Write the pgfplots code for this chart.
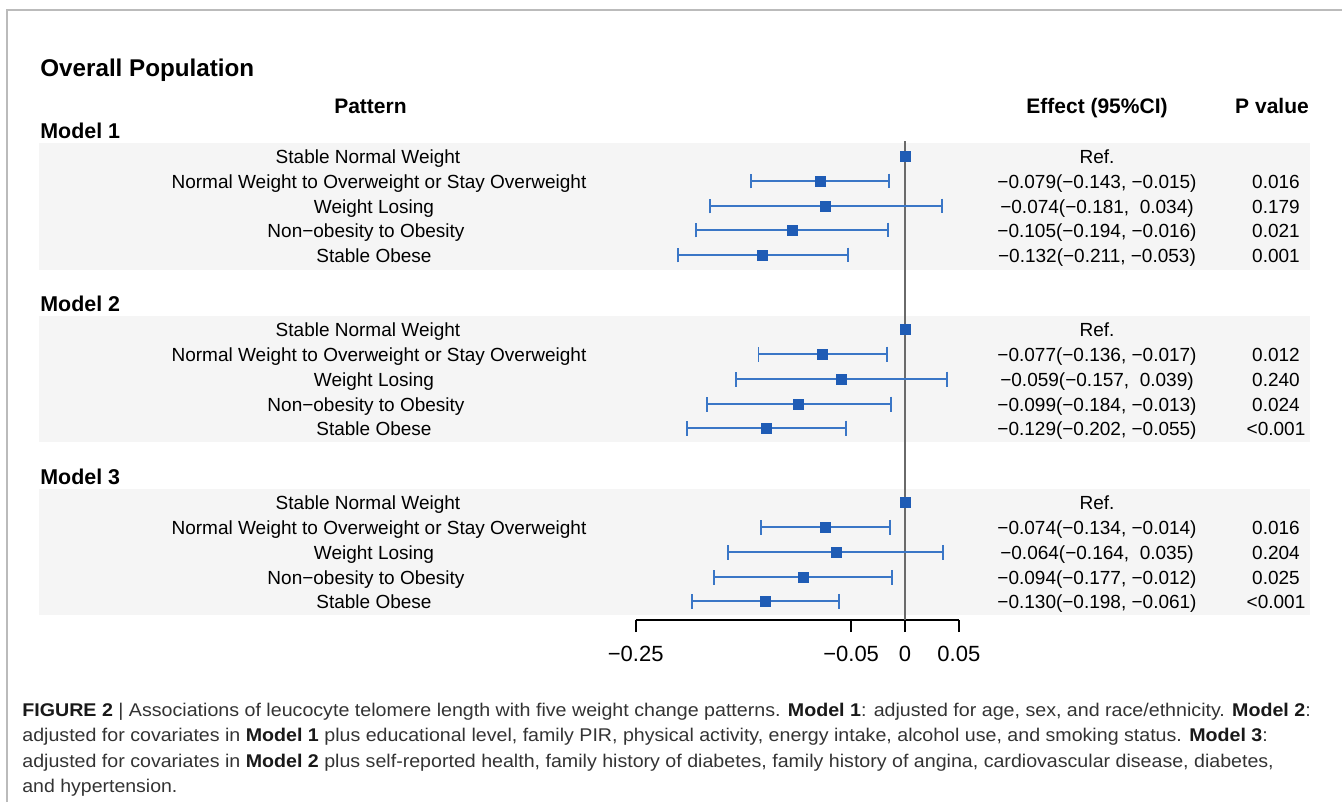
\documentclass[border=0pt]{standalone}
\usepackage{fontspec}
\setmainfont{Liberation Sans}
\usepackage{graphicx}
\usepackage{pgfplots}
\usepackage{pgfplotstable}
\pgfplotsset{compat=1.18}
\definecolor{markblue}{HTML}{1F5CB5}
\definecolor{barblue}{HTML}{3A76C6}
\definecolor{band}{HTML}{F5F5F5}
\definecolor{framec}{HTML}{BBBBBB}
\definecolor{captxt}{HTML}{333333}
\definecolor{zeroline}{HTML}{6A6A6A}
\newcommand\rowf{\fontsize{9.5}{11}\selectfont}
\newcommand\hdrf{\fontsize{10.5}{12}\selectfont\bfseries}
\newcommand\modf{\fontsize{10.7}{12}\selectfont\bfseries}
\newcommand\titf{\fontsize{12.1}{14}\selectfont\bfseries}
\newcommand\capf{\fontsize{9.2}{10}\selectfont\color{captxt}}
% #1 baseline y, #2 pattern x, #3 pattern, #4 effect, #5 p value
\newcommand\rowtext[5]{%
 \node[anchor=base,inner sep=0pt,font=\rowf] at (axis cs:#2,#1) {#3};
 \node[anchor=base,inner sep=0pt,font=\rowf] at (axis cs:0.1783,#1) {#4};
 \node[anchor=base,inner sep=0pt,font=\rowf] at (axis cs:0.3445,#1) {#5};}
\newcommand\capline[3]{%
 \node[anchor=base west,inner sep=0pt,font=\capf] at (axis cs:-0.81987,#1) {\resizebox{#2}{\height}{#3}};}

% est lo hi y (y = 802 - pixel row)
\pgfplotstableread{
est lo hi y
0 0 0 646
0 0 0 473
0 0 0 300
}\refrows
\pgfplotstableread{
est lo hi y
-0.079 -0.143 -0.015 621
-0.074 -0.181 0.034 596
-0.105 -0.194 -0.016 572
-0.132 -0.211 -0.053 547
}\modelone
\pgfplotstableread{
est lo hi y
-0.077 -0.136 -0.017 448
-0.059 -0.157 0.039 423
-0.099 -0.184 -0.013 398
-0.129 -0.202 -0.055 374
}\modeltwo
\pgfplotstableread{
est lo hi y
-0.074 -0.134 -0.014 275
-0.064 -0.164 0.035 250
-0.094 -0.177 -0.012 225
-0.130 -0.198 -0.061 201
}\modelthree

\begin{document}
\begin{tikzpicture}
\begin{axis}[
  scale only axis,
  width=161.5pt, height=240pt,
  xmin=-0.25, xmax=0.05, ymin=182, ymax=662,
  clip=false,
  axis x line=bottom, axis y line=none,
  x axis line style={-, line width=1pt, black},
  xtick={-0.25,-0.05,0,0.05},
  xticklabels={−0.25,−0.05,0,0.05},
  minor xtick={},
  tick align=outside,
  major tick length=6pt,
  major tick style={line width=1pt, black},
  xticklabel style={font=\fontsize{11}{13}\selectfont, anchor=base, yshift=-14.75pt, inner sep=0pt},
  typeset ticklabels with strut=false,
]
% bounding box corners
\coordinate (bbl) at (axis cs:-0.84030,0);
\coordinate (btr) at (axis cs:0.40576,802);
% frame
\draw[framec, line width=0.75pt] (axis cs:-0.8338,0) -- (axis cs:-0.8338,792) -- (axis cs:0.40576,792);
% bands
\fill[band] (axis cs:-0.80409,659) rectangle (axis cs:0.37604,532);
\fill[band] (axis cs:-0.80409,486) rectangle (axis cs:0.37604,360);
\fill[band] (axis cs:-0.80409,313) rectangle (axis cs:0.37604,187);
% zero line
\addplot[zeroline, line width=0.55pt, forget plot] coordinates {(0,182) (0,661)};
% estimates
\pgfplotsset{forestbars/.style={only marks, mark=square*, mark size=2.5pt,
   mark options={draw=markblue, fill=markblue},
   error bars/.cd, x dir=both, x explicit,
   error bar style={line width=0.95pt, barblue},
   error mark options={line width=0.95pt, barblue, mark size=3.7pt, rotate=90}}}
\addplot[forestbars] table[x=est, y=y, x error plus expr=\thisrow{hi}-\thisrow{est}, x error minus expr=\thisrow{est}-\thisrow{lo}] {\modelone};
\addplot[forestbars] table[x=est, y=y, x error plus expr=\thisrow{hi}-\thisrow{est}, x error minus expr=\thisrow{est}-\thisrow{lo}] {\modeltwo};
\addplot[forestbars] table[x=est, y=y, x error plus expr=\thisrow{hi}-\thisrow{est}, x error minus expr=\thisrow{est}-\thisrow{lo}] {\modelthree};
\addplot[only marks, mark=square*, mark size=2.5pt, mark options={draw=markblue, fill=markblue}] table[x=est, y=y] {\refrows};
% title and headers
\node[anchor=base west,inner sep=0pt,font=\titf] at (axis cs:-0.80316,726) {Overall Population};
\node[anchor=base,inner sep=0pt,font=\hdrf] at (axis cs:-0.4963,688.5) {Pattern};
\node[anchor=base,inner sep=0pt,font=\hdrf] at (axis cs:0.1783,688.5) {Effect (95\%CI)};
\node[anchor=base,inner sep=0pt,font=\hdrf] at (axis cs:0.3408,688.5) {P value};
% model labels
\node[anchor=base west,inner sep=0pt,font=\modf] at (axis cs:-0.80316,664) {Model 1};
\node[anchor=base west,inner sep=0pt,font=\modf] at (axis cs:-0.80316,491) {Model 2};
\node[anchor=base west,inner sep=0pt,font=\modf] at (axis cs:-0.80316,318) {Model 3};
% rows
\rowtext{639}{-0.49861}{Stable Normal Weight}{Ref.}{}
\rowtext{614}{-0.48839}{Normal Weight to Overweight or Stay Overweight}{−0.079(−0.143, −0.015)}{0.016}
\rowtext{589}{-0.49304}{Weight Losing}{−0.074(−0.181,~~0.034)}{0.179}
\rowtext{565}{-0.50046}{Non−obesity to Obesity}{−0.105(−0.194, −0.016)}{0.021}
\rowtext{540}{-0.49304}{Stable Obese}{−0.132(−0.211, −0.053)}{0.001}
\rowtext{466}{-0.49861}{Stable Normal Weight}{Ref.}{}
\rowtext{441}{-0.48839}{Normal Weight to Overweight or Stay Overweight}{−0.077(−0.136, −0.017)}{0.012}
\rowtext{416}{-0.49304}{Weight Losing}{−0.059(−0.157,~~0.039)}{0.240}
\rowtext{391}{-0.50046}{Non−obesity to Obesity}{−0.099(−0.184, −0.013)}{0.024}
\rowtext{367}{-0.49304}{Stable Obese}{−0.129(−0.202, −0.055)}{<0.001}
\rowtext{293}{-0.49861}{Stable Normal Weight}{Ref.}{}
\rowtext{268}{-0.48839}{Normal Weight to Overweight or Stay Overweight}{−0.074(−0.134, −0.014)}{0.016}
\rowtext{243}{-0.49304}{Weight Losing}{−0.064(−0.164,~~0.035)}{0.204}
\rowtext{218}{-0.50046}{Non−obesity to Obesity}{−0.094(−0.177, −0.012)}{0.025}
\rowtext{194}{-0.49304}{Stable Obese}{−0.130(−0.198, −0.061)}{<0.001}
% caption
\capline{86}{644pt}{\textbf{\color{black!90}FIGURE 2} | Associations of leucocyte telomere length with five weight change patterns. \textbf{\color{black!90}Model 1}: adjusted for age, sex, and race/ethnicity. \textbf{\color{black!90}Model 2}:}
\capline{61}{622.5pt}{adjusted for covariates in \textbf{\color{black!90}Model 1} plus educational level, family PIR, physical activity, energy intake, alcohol use, and smoking status. \textbf{\color{black!90}Model 3}:}
\capline{35}{625.5pt}{adjusted for covariates in \textbf{\color{black!90}Model 2} plus self-reported health, family history of diabetes, family history of angina, cardiovascular disease, diabetes,}
\capline{10}{77.5pt}{and hypertension.}
\end{axis}
\pgfresetboundingbox
\path[use as bounding box] (bbl) rectangle (btr);
\end{tikzpicture}
\end{document}
